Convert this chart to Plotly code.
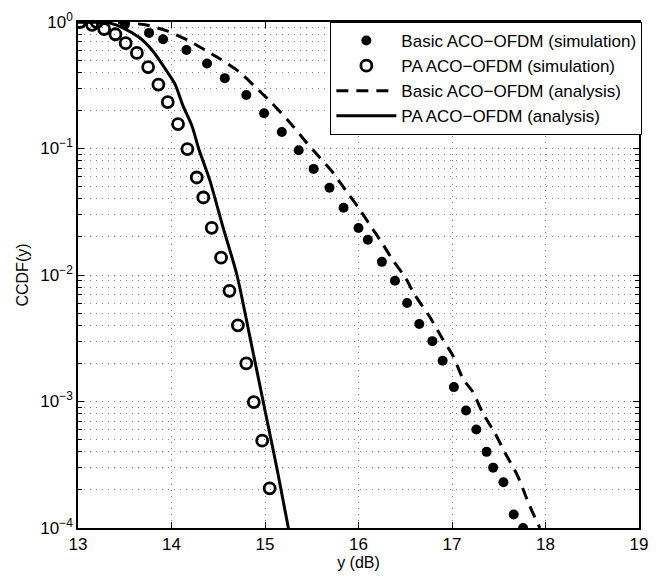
import plotly.graph_objects as go

# Data
basic_sim_x = [13.50, 13.76, 13.91, 14.16, 14.38, 14.57, 14.80, 14.99, 15.18, 15.36, 15.52, 15.69,
               15.84, 16.00, 16.10, 16.25, 16.39, 16.52, 16.65, 16.79, 16.90, 17.02, 17.15, 17.26,
               17.37, 17.44, 17.55, 17.66, 17.76]
basic_sim_y = [0.95, 0.82, 0.73, 0.60, 0.47, 0.36, 0.265, 0.19, 0.135, 0.097, 0.069, 0.049,
               0.034, 0.0235, 0.019, 0.0127, 0.009, 0.006, 0.0041, 0.0030, 0.0021, 0.0013, 0.00085, 0.0006,
               0.0004, 0.0003, 0.00023, 0.000128, 0.0001]

pa_sim_x = [13.02, 13.15, 13.20, 13.28, 13.40, 13.51, 13.63, 13.75, 13.86, 13.96, 14.07, 14.17,
            14.27, 14.34, 14.43, 14.53, 14.62, 14.71, 14.80, 14.88, 14.97, 15.05]
pa_sim_y = [1.0, 0.95, 1.0, 0.88, 0.80, 0.68, 0.57, 0.44, 0.32, 0.233, 0.156, 0.099,
            0.059, 0.041, 0.0236, 0.0137, 0.0075, 0.0040, 0.0020, 0.00099, 0.00049, 0.000206]

basic_ana_x = [13.0, 13.3, 13.5, 13.72, 13.95, 14.17, 14.36, 14.52, 14.73, 14.89, 15.07, 15.29,
               15.45, 15.59, 15.73, 15.86, 16.00, 16.12, 16.25, 16.37, 16.50, 16.60, 16.76, 16.89,
               17.01, 17.12, 17.22, 17.33, 17.46, 17.57, 17.70, 17.83, 17.94]
basic_ana_y = [1.0, 0.995, 0.985, 0.95, 0.85, 0.72, 0.60, 0.51, 0.40, 0.31, 0.23, 0.153,
               0.11, 0.084, 0.064, 0.047, 0.034, 0.025, 0.018, 0.013, 0.0096, 0.0070, 0.0047, 0.0032,
               0.0023, 0.0015, 0.0012, 0.00081, 0.00056, 0.00039, 0.00026, 0.00015, 0.0001]

pa_ana_x = [13.0, 13.2, 13.34, 13.48, 13.66, 13.80, 13.93, 14.04, 14.12, 14.22, 14.29, 14.41,
            14.55, 14.70, 14.84, 15.00, 15.13, 15.25]
pa_ana_y = [1.0, 0.995, 0.98, 0.90, 0.75, 0.59, 0.43, 0.32, 0.22, 0.15, 0.10, 0.056,
            0.024, 0.0100, 0.0032, 0.00085, 0.00029, 0.0001]

x_ticks = [13, 14, 15, 16, 17, 18, 19]
y_ticks = [1e-4, 1e-3, 1e-2, 1e-1, 1]
y_tick_text = ["10<sup>−4</sup>", "10<sup>−3</sup>", "10<sup>−2</sup>", "10<sup>−1</sup>", "10<sup>0</sup>"]
y_minor = [m * 10.0 ** e for e in range(-4, 0) for m in range(2, 10)]

names = ["Basic ACO−OFDM (simulation)", "PA ACO−OFDM (simulation)",
         "Basic ACO−OFDM (analysis)", "PA ACO−OFDM (analysis)"]

FONT = "Liberation Sans, Arial, Helvetica, sans-serif"
GRID = "#808080"

fig = go.Figure()
fig.add_trace(go.Scatter(x=basic_sim_x, y=basic_sim_y, mode="markers", name=names[0],
                         marker=dict(symbol="circle", size=10, color="black")))
fig.add_trace(go.Scatter(x=pa_sim_x, y=pa_sim_y, mode="markers", name=names[1],
                         marker=dict(symbol="circle-open", size=11, color="black",
                                     line=dict(width=2.8, color="black"))))
fig.add_trace(go.Scatter(x=basic_ana_x, y=basic_ana_y, mode="lines", name=names[2],
                         line=dict(color="black", width=3, dash="12px,8px",
                                   shape="spline", smoothing=0.7)))
fig.add_trace(go.Scatter(x=pa_ana_x, y=pa_ana_y, mode="lines", name=names[3],
                         line=dict(color="black", width=3, shape="spline", smoothing=0.7)))

# the page body adds an 8px offset; size the figure so it fits the window
fig.update_layout(
    width=657, height=568,
    margin=dict(l=70, r=26, t=14, b=48, autoexpand=False),
    paper_bgcolor="white", plot_bgcolor="white",
    font=dict(family=FONT, size=17, color="black"),
    showlegend=True,
    legend=dict(x=1.006, y=1.0, xanchor="right", yanchor="top",
                bgcolor="white", bordercolor="black", borderwidth=1,
                font=dict(size=17), itemwidth=60, tracegroupgap=0),
)
fig.update_xaxes(
    range=[13, 19], tickvals=x_ticks, ticks="inside", ticklen=6, tickcolor="black",
    showline=True, linecolor="black", linewidth=1.5, mirror="allticks", automargin=False,
    showgrid=True, gridcolor=GRID, griddash="1px,5px", gridwidth=1, zeroline=False,
    title=dict(text="y (dB)", standoff=4, font=dict(size=16)),
)
fig.update_yaxes(
    type="log", range=[-4, 0], tickvals=y_ticks, ticktext=y_tick_text,
    ticks="inside", ticklen=6, tickcolor="black", automargin=False,
    showline=True, linecolor="black", linewidth=1.5, mirror="allticks",
    showgrid=True, gridcolor=GRID, griddash="1px,5px", gridwidth=1, zeroline=False,
    minor=dict(tickvals=y_minor, ticks="inside", ticklen=4, tickcolor="black",
               showgrid=True, gridcolor=GRID, griddash="1px,5px", gridwidth=1),
    title=dict(text="CCDF(y)", standoff=8, font=dict(size=16)),
)

fig.write_html("out.html")
